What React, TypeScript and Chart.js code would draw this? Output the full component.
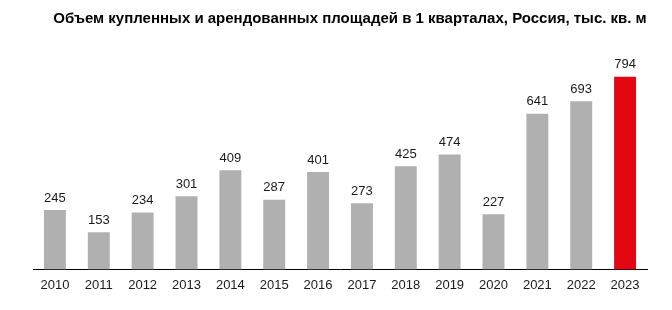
import React, { useEffect, useRef } from "react";
import { Chart, registerables } from "chart.js";

Chart.register(...registerables);

const TITLE = "Объем купленных и арендованных площадей в 1 кварталах, Россия, тыс. кв. м";
const years = ["2010", "2011", "2012", "2013", "2014", "2015", "2016", "2017", "2018", "2019", "2020", "2021", "2022", "2023"];
const values = [245, 153, 234, 301, 409, 287, 401, 273, 425, 474, 227, 641, 693, 794];
const GRAY = "#b0b0b1";
const RED = "#e30613";
const barColors = years.map((_, i) => (i === years.length - 1 ? RED : GRAY));
const FONT = "Arial, 'Liberation Sans', sans-serif";

const labelPlugin = {
  id: "valueLabels",
  afterDatasetsDraw(chart: any) {
    const ctx = chart.ctx;
    const meta = chart.getDatasetMeta(0);
    ctx.save();
    ctx.font = `13px ${FONT}`;
    ctx.fillStyle = "#1a1a1a";
    ctx.textAlign = "center";
    ctx.textBaseline = "middle";
    meta.data.forEach((bar: any, i: number) => {
      ctx.fillText(String(values[i]), bar.x, bar.y - 12);
    });
    ctx.restore();
  },
};

const titlePlugin = {
  id: "customTitle",
  afterDraw(chart: any) {
    const ctx = chart.ctx;
    ctx.save();
    ctx.font = `bold 15px ${FONT}`;
    ctx.fillStyle = "#000";
    ctx.textAlign = "center";
    ctx.textBaseline = "alphabetic";
    ctx.fillText(TITLE, 350, 23);
    ctx.restore();
  },
};

export default function App() {
  const ref = useRef<HTMLCanvasElement | null>(null);
  useEffect(() => {
    if (!ref.current) return;
    const chart = new Chart(ref.current, {
      type: "bar",
      data: {
        labels: years,
        datasets: [
          {
            data: values,
            backgroundColor: barColors,
            barPercentage: 0.5,
            categoryPercentage: 1,
          },
        ],
      },
      options: {
        animation: false,
        responsive: false,
        maintainAspectRatio: false,
        layout: { padding: { left: 33, right: 25, top: 51, bottom: 17 } },
        plugins: {
          legend: { display: false },
          tooltip: { enabled: false },
          title: { display: false },
        },
        scales: {
          x: {
            grid: { display: false },
            border: { display: true, color: "#000", width: 1 },
            ticks: {
              color: "#1a1a1a",
              font: { family: FONT, size: 13 },
              padding: 0,
              maxRotation: 0,
              autoSkip: false,
            },
          },
          y: {
            display: false,
            min: 0,
            max: 900,
          },
        },
      },
      plugins: [labelPlugin, titlePlugin],
    });
    return () => chart.destroy();
  }, []);
  return (
    <div style={{ position: "fixed", left: 0, top: 0, width: 672, height: 310, background: "#fff" }}>
      <canvas ref={ref} width={672} height={310} />
    </div>
  );
}
